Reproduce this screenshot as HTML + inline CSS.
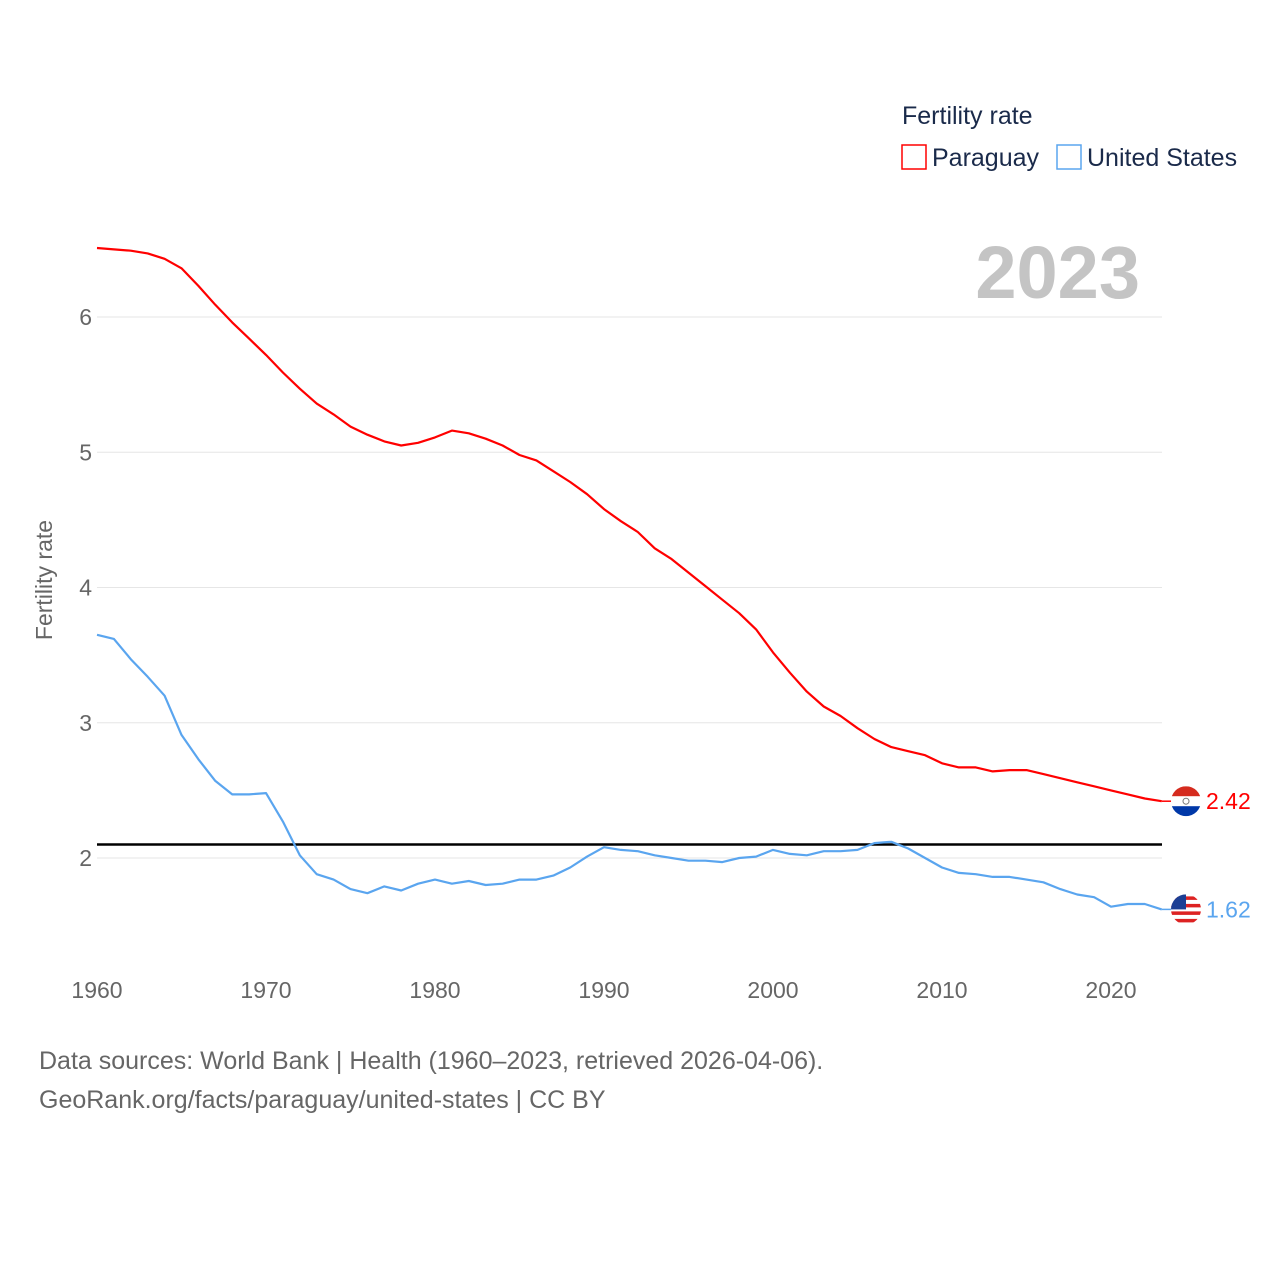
<!DOCTYPE html>
<html><head><meta charset="utf-8"><style>
body{margin:0;background:#fff;}
svg{display:block;font-family:"Liberation Sans",sans-serif;}
</style></head><body>
<svg id="chart" width="1280" height="1280" viewBox="0 0 1280 1280">
<defs id="defs"></defs>
<g id="grid"></g>
<g id="xticks"></g>
<g id="yticks"></g>
<text x="52" y="580" transform="rotate(-90 52 580)" text-anchor="middle" font-size="23" fill="#666">Fertility rate</text>
<text x="1140" y="298" text-anchor="end" font-size="74" font-weight="bold" fill="#c4c4c4">2023</text>
<text x="902" y="124" font-size="25" fill="#1a2a4a">Fertility rate</text>
<g><rect x="902" y="145" width="24" height="24" fill="none" stroke="#ff0000" stroke-width="1.5"/><text x="932" y="166" font-size="25" fill="#1a2a4a">Paraguay</text></g>
<g><rect x="1057" y="145" width="24" height="24" fill="none" stroke="#5aa5ef" stroke-width="1.5"/><text x="1087" y="166" font-size="25" fill="#1a2a4a">United States</text></g>
<line id="refline" x1="97" x2="1162" stroke="#000" stroke-width="2.5"/>
<g id="series"></g>
<text x="39" y="1069" font-size="25" fill="#666">Data sources: World Bank | Health (1960–2023, retrieved 2026-04-06).</text>
<text x="39" y="1108" font-size="25" fill="#666">GeoRank.org/facts/paraguay/united-states | CC BY</text>
</svg>
<script>
const years=[];for(let y=1960;y<=2023;y++)years.push(y);
const paraguay=[6.51,6.50,6.49,6.47,6.43,6.36,6.23,6.09,5.96,5.84,5.72,5.59,5.47,5.36,5.28,5.19,5.13,5.08,5.05,5.07,5.11,5.16,5.14,5.10,5.05,4.98,4.94,4.86,4.78,4.69,4.58,4.49,4.41,4.29,4.21,4.11,4.01,3.91,3.81,3.69,3.52,3.37,3.23,3.12,3.05,2.96,2.88,2.82,2.79,2.76,2.70,2.67,2.67,2.64,2.65,2.65,2.62,2.59,2.56,2.53,2.50,2.47,2.44,2.42];
const unitedStates=[3.65,3.62,3.47,3.34,3.20,2.91,2.73,2.57,2.47,2.47,2.48,2.27,2.02,1.88,1.84,1.77,1.74,1.79,1.76,1.81,1.84,1.81,1.83,1.80,1.81,1.84,1.84,1.87,1.93,2.01,2.08,2.06,2.05,2.02,2.00,1.98,1.98,1.97,2.00,2.01,2.06,2.03,2.02,2.05,2.05,2.06,2.11,2.12,2.07,2.00,1.93,1.89,1.88,1.86,1.86,1.84,1.82,1.77,1.73,1.71,1.64,1.66,1.66,1.62];
const yTicks=[2,3,4,5,6];
const xTicks=[1960,1970,1980,1990,2000,2010,2020];
const refValue=2.1;
const NS="http://www.w3.org/2000/svg";
const X=v=>97+(v-1960)*(1014/60);
const Y=v=>858-(v-2)*135.25;
function mk(t,a,p){const e=document.createElementNS(NS,t);for(const k in a)e.setAttribute(k,a[k]);p.appendChild(e);return e;}
const grid=document.getElementById('grid'),yt=document.getElementById('yticks'),xt=document.getElementById('xticks'),defs=document.getElementById('defs');
yTicks.forEach(v=>{
 const l=mk('line',{x1:97,x2:1162,y1:Y(v),y2:Y(v),stroke:'#e6e6e6','stroke-width':1},grid);
 
 
 const t=mk('text',{x:92,y:Y(v)+8,'text-anchor':'end','font-size':23,fill:'#666'},yt);t.textContent=v;
 
 
});
xTicks.forEach(v=>{
 const t=mk('text',{x:X(v),y:998,'text-anchor':'middle','font-size':23,fill:'#666'},xt);t.textContent=v;
 
 
});
const rl=document.getElementById('refline');rl.setAttribute('y1',Y(refValue));rl.setAttribute('y2',Y(refValue));
const sg=document.getElementById('series');
function series(vals,color,name){
 const p=mk('path',{d:vals.map((v,i)=>(i?'L':'M')+X(years[i]).toFixed(1)+','+Y(v).toFixed(1)).join(''),fill:'none',stroke:color,'stroke-width':2.2,'stroke-linejoin':'round'},sg);
 
 
 const last=vals[vals.length-1],ly=Y(last);
 mk('line',{x1:X(2023),x2:1172,y1:ly,y2:ly,stroke:color,'stroke-width':1.5},sg);
 const cp=mk('clipPath',{id:'clip-'+name},defs);
 mk('circle',{cx:1186,cy:ly,r:15},cp);
 const f=mk('g',{'clip-path':'url(#clip-'+name+')'},sg);
 
 
 return {ly,last,f};
}
const a=series(paraguay,'#ff0000','paraguay');
mk('rect',{x:1171,y:a.ly-15,width:30,height:30,fill:'#fff'},a.f);
mk('rect',{x:1171,y:a.ly-15,width:30,height:10,fill:'#d52b1e'},a.f);
mk('rect',{x:1171,y:a.ly+5,width:30,height:10,fill:'#0038a8'},a.f);
mk('circle',{cx:1186,cy:a.ly,r:3,fill:'none',stroke:'#777','stroke-width':1},a.f);
const ta=mk('text',{x:1206,y:a.ly+8,'font-size':23,fill:'#ff0000'},sg);ta.textContent=a.last.toFixed(2);


const b=series(unitedStates,'#5aa5ef','united-states');
mk('rect',{x:1171,y:b.ly-15,width:30,height:30,fill:'#fff'},b.f);
for(let i=0;i<4;i++)mk('rect',{x:1171,y:b.ly-13+i*7.5,width:30,height:3.5,fill:'#d22'},b.f);
mk('rect',{x:1171,y:b.ly-15,width:15,height:15,fill:'#1c3f94'},b.f);
const tb=mk('text',{x:1206,y:b.ly+8,'font-size':23,fill:'#5aa5ef'},sg);tb.textContent=b.last.toFixed(2);


</script>
</body></html>
